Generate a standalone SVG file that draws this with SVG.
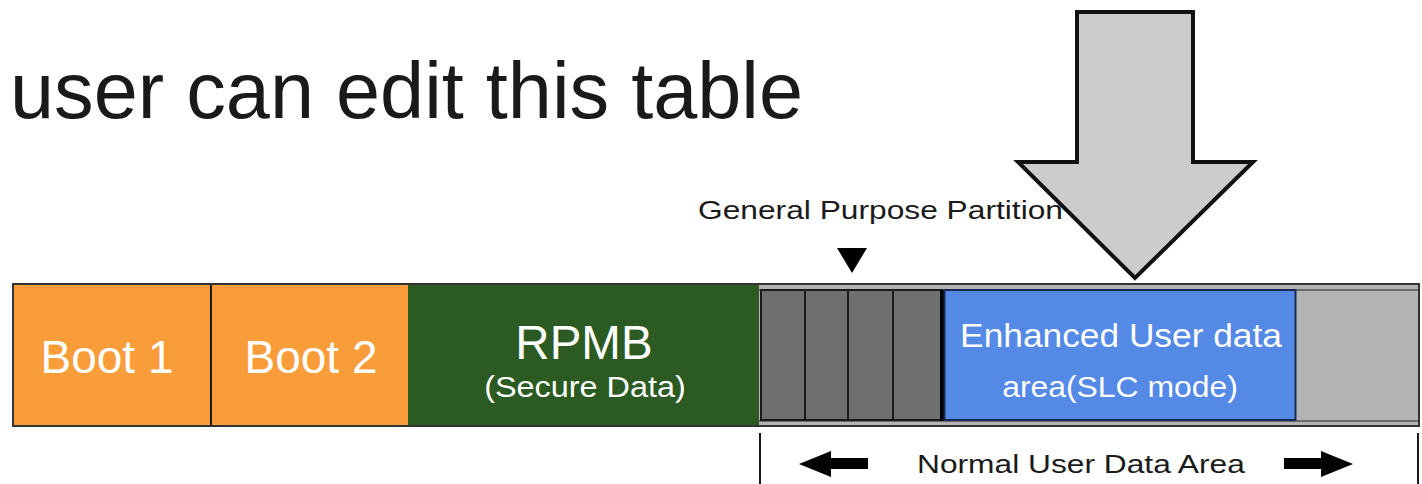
<svg xmlns="http://www.w3.org/2000/svg" width="1422" height="484" viewBox="0 0 1422 484">
<style>
text{font-family:"Liberation Sans",Arial,sans-serif}
.w{fill:#ffffff;text-anchor:middle}
.k{fill:#1a1a1a}
.cell{fill:#6f6f6f;stroke:#1a1a1a;stroke-width:2}
</style>
<rect width="1422" height="484" fill="#ffffff"/>
<text class="k" x="10" y="118" font-size="80" textLength="793" lengthAdjust="spacingAndGlyphs">user can edit this table</text>
<text class="k" x="0" y="0" font-size="26" transform="translate(698,219) scale(1.22,1)">General Purpose Partition</text>

<g id="bar">
<rect x="13" y="284" width="1406" height="142" fill="#b3b3b3" stroke="#333333" stroke-width="2"/>
</g>
<g id="boot1">
<rect x="14" y="285" width="197" height="140" fill="#f99d3a"/>
<text class="w" x="107" y="373" font-size="46">Boot 1</text>
</g>
<g id="boot2">
<rect x="211" y="285" width="197" height="140" fill="#f99d3a"/>
<line x1="211" y1="285" x2="211" y2="425" stroke="#1a1a1a" stroke-width="2"/>
<text class="w" x="311" y="373" font-size="46">Boot 2</text>
</g>
<g id="rpmb">
<rect x="408" y="285" width="351" height="140" fill="#2b5a22"/>
<text class="w" x="0" y="0" font-size="48" transform="translate(584,359) scale(0.99,1)">RPMB</text>
<text class="w" x="0" y="0" font-size="30" transform="translate(585,397) scale(1.08,1)">(Secure Data)</text>
</g>
<g id="gpp">
<line x1="759" y1="290" x2="1418" y2="290" stroke="#555555" stroke-width="1.5"/>
<line x1="759" y1="421" x2="1418" y2="421" stroke="#555555" stroke-width="1.5"/>
<rect class="cell" x="761" y="290" width="44" height="130"/>
<rect class="cell" x="805" y="290" width="43" height="130"/>
<rect class="cell" x="848" y="290" width="45" height="130"/>
<rect class="cell" x="893" y="290" width="49" height="130"/>
<line x1="942" y1="290" x2="942" y2="421" stroke="#000000" stroke-width="4"/>
</g>
<g id="enhanced">
<rect x="944.5" y="290" width="351" height="130" fill="#5489e6" stroke="#1a2a55" stroke-width="2"/>
<text class="w" x="0" y="0" font-size="33" transform="translate(1121,347) scale(1.07,1)">Enhanced User data</text>
<text class="w" x="0" y="0" font-size="29" transform="translate(1120,397) scale(1.1,1)">area(SLC mode)</text>
</g>
<g id="normal-area">
<line x1="760" y1="433" x2="760" y2="484" stroke="#1a1a1a" stroke-width="2"/>
<line x1="1418" y1="433" x2="1418" y2="484" stroke="#1a1a1a" stroke-width="2"/>
<text class="k" x="0" y="0" font-size="26" transform="translate(917,473) scale(1.22,1)">Normal User Data Area</text>
</g>

<g id="connectors" fill="#000000">
<polygon points="837,248 867,248 852,273"/>
<polygon points="799,464 831,451 831,458 868,458 868,469 831,469 831,477"/>
<polygon points="1353,464 1321,451 1321,458 1284,458 1284,469 1321,469 1321,477"/>
<polygon points="1077,12 1193,12 1193,162 1253,162 1135,278 1018,162 1077,162" fill="#cccccc" stroke="#111111" stroke-width="4" stroke-linejoin="miter"/>
</g>
</svg>
